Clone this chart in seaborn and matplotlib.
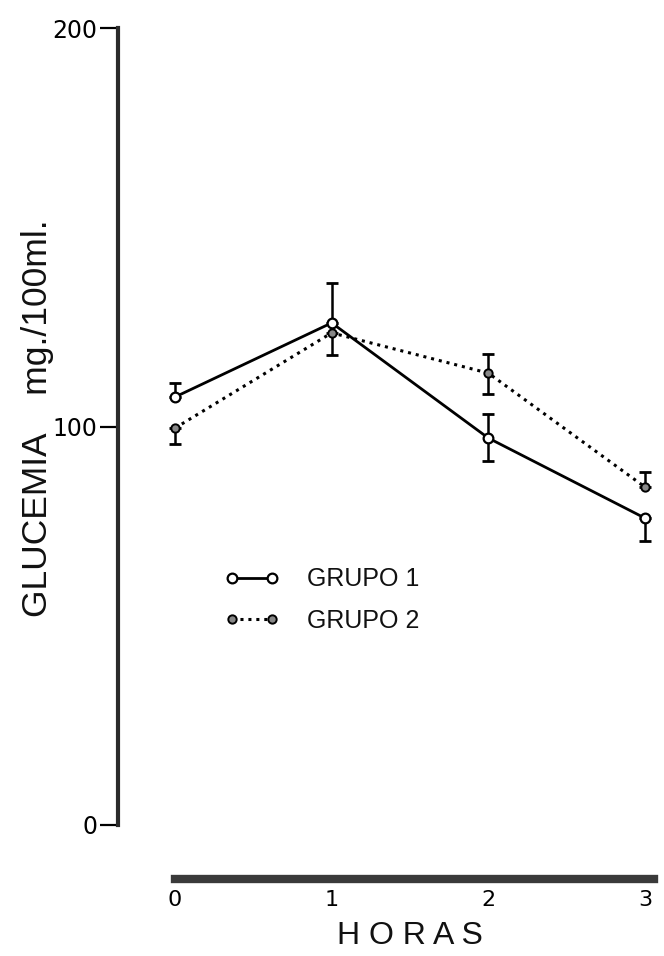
import matplotlib
matplotlib.use("Agg")
import matplotlib.pyplot as plt
import seaborn as sns
import pandas as pd
import numpy as np

# ---- data ----
horas = [0, 1, 2, 3]
grupo1 = [107.4, 126.0, 97.1, 77.0]
grupo2 = [99.6, 123.5, 113.4, 84.8]
g1_err_low = [0.0, 0.0, 5.8, 5.7]
g1_err_high = [3.5, 10.0, 6.0, 0.0]
g2_err_low = [4.0, 5.6, 5.3, 0.0]
g2_err_high = [0.0, 0.0, 4.8, 3.8]
y_ticks = [0, 100, 200]
y_ticklabels = ["0", "100", "200"]
x_ticklabels = ["0", "1", "2", "3"]
labels = ["GRUPO 1", "GRUPO 2"]

sns.set_style("white")
plt.rcParams["font.family"] = ["Liberation Sans", "DejaVu Sans"]
plt.rcParams["text.color"] = "#111111"

fig = plt.figure(figsize=(6.64, 9.56), dpi=100)
ax = fig.add_axes([118 / 664, (956 - 825) / 956, 542 / 664, 797 / 956])

df1 = pd.DataFrame({"hora": horas, "glucemia": grupo1})
df2 = pd.DataFrame({"hora": horas, "glucemia": grupo2})

sns.lineplot(data=df1, x="hora", y="glucemia", ax=ax, color="black",
             linewidth=2.0, marker="o", markersize=7,
             markerfacecolor="white", markeredgecolor="black",
             markeredgewidth=1.6, label=labels[0], zorder=3)
sns.lineplot(data=df2, x="hora", y="glucemia", ax=ax, color="black",
             linewidth=2.2, linestyle=(0, (1, 1.6)), marker="o",
             markersize=6, markerfacecolor="#888888",
             markeredgecolor="black", markeredgewidth=1.4,
             label=labels[1], zorder=3)

ax.errorbar(horas, grupo1, yerr=[g1_err_low, g1_err_high], fmt="none",
            ecolor="black", elinewidth=1.8, capsize=4.5, capthick=2.0,
            zorder=2)
ax.errorbar(horas, grupo2, yerr=[g2_err_low, g2_err_high], fmt="none",
            ecolor="black", elinewidth=1.8, capsize=4.5, capthick=2.0,
            zorder=2)

ax.set_ylim(0, 200)
ax.set_xlim(-57 / 156.67, 485 / 156.67)

for s in ["top", "right"]:
    ax.spines[s].set_visible(False)
ax.spines["left"].set_linewidth(3.0)
ax.spines["left"].set_color("#2b2b2b")
ax.spines["bottom"].set_position(("outward", 39))
ax.spines["bottom"].set_bounds(0, 3.06)
ax.spines["bottom"].set_linewidth(6)
ax.spines["bottom"].set_color("#3a3a3a")

ax.set_yticks(y_ticks)
ax.set_yticklabels(y_ticklabels, fontfamily="DejaVu Sans", fontsize=17,
                   color="#111111")
ax.tick_params(axis="y", direction="out", length=13, width=1.6, pad=2,
               colors="black", left=True)
ax.set_xticks(horas)
ax.set_xticklabels(x_ticklabels, fontfamily="DejaVu Sans", fontsize=16,
                   color="#111111")
ax.tick_params(axis="x", direction="out", length=3, width=1.5, pad=5,
               colors="black", bottom=True)

ax.set_xlabel("")
ax.set_ylabel("")
ax.text(-0.148, 0.51, "GLUCEMIA    mg./100ml.", transform=ax.transAxes,
        rotation=90, ha="center", va="center", fontsize=25.5, color="#111111")
fig.text(410 / 664, 1 - 936 / 956, "H O R A S", ha="center", va="center",
         fontsize=23, color="#111111")

leg = ax.legend(loc="center left", bbox_to_anchor=(0.197, 0.282),
                frameon=False, fontsize=18, handlelength=2.2,
                handletextpad=1.1, labelspacing=0.7, numpoints=2,
                borderpad=0, borderaxespad=0)
for t in leg.get_texts():
    t.set_color("#111111")

fig.savefig("out.png", dpi=100, facecolor="white")
